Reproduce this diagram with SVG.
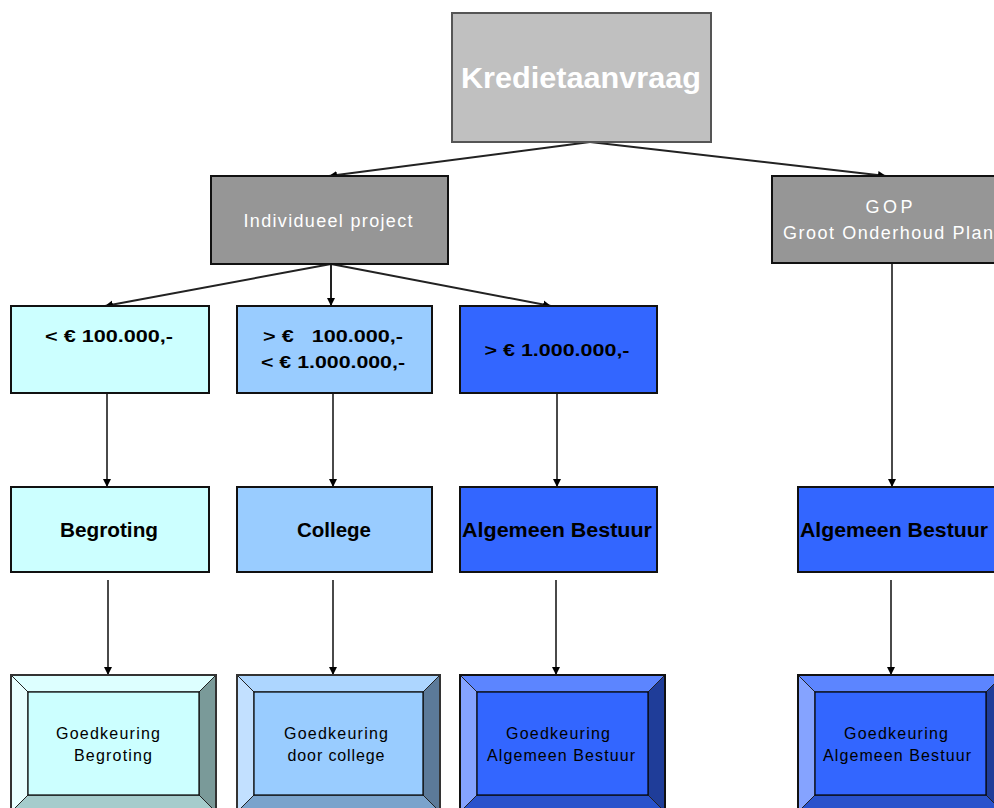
<svg xmlns="http://www.w3.org/2000/svg" width="994" height="808" viewBox="0 0 994 808">
<defs>
<marker id="arr" markerUnits="userSpaceOnUse" markerWidth="9" markerHeight="9" refX="8" refY="4.5" orient="auto">
<path d="M0,0.5 L8,4.5 L0,8.5 z" fill="#000"/>
</marker>
<style>
text{font-family:"Liberation Sans",Arial,sans-serif;text-anchor:middle}
.box{stroke:#111;stroke-width:2}
.w{fill:#fff}
.b{font-weight:bold;fill:#000}
.r{fill:#000;font-size:16px}
.c{fill:none;stroke:#222;stroke-width:2;marker-end:url(#arr)}
.v{fill:none;stroke:#4a4a4a;stroke-width:2;marker-end:url(#arr)}
.edge{stroke:#222;stroke-width:1}
.inner{stroke:#000;stroke-width:1.2}
</style>
</defs>
<rect width="994" height="808" fill="#fff"/>

<g id="connectors">
<line class="c" x1="590" y1="142" x2="329" y2="176"/>
<line class="c" x1="590" y1="142" x2="886" y2="176"/>
<line class="c" x1="331" y1="264" x2="105" y2="306"/>
<line class="c" x1="331" y1="264" x2="331" y2="306"/>
<line class="c" x1="331" y1="264" x2="551" y2="306"/>
<line class="v" x1="107" y1="393" x2="107" y2="487"/>
<line class="v" x1="333" y1="393" x2="333" y2="487"/>
<line class="v" x1="557" y1="393" x2="557" y2="487"/>
<line class="v" x1="892" y1="263" x2="892" y2="487"/>
<line class="v" x1="108" y1="580" x2="108" y2="675"/>
<line class="v" x1="333" y1="580" x2="333" y2="675"/>
<line class="v" x1="556" y1="580" x2="556" y2="675"/>
<line class="v" x1="891" y1="580" x2="891" y2="675"/>
</g>

<g id="kredietaanvraag">
<rect x="452" y="13" width="259" height="129" fill="#c0c0c0" stroke="#555" stroke-width="2"/>
<text x="581" y="88" class="w" font-weight="bold" font-size="30" textLength="240" lengthAdjust="spacingAndGlyphs">Kredietaanvraag</text>
</g>

<g id="individueel">
<rect class="box" x="211" y="176" width="237" height="88" fill="#969696"/>
<text x="328" y="227" class="w" font-size="18" textLength="169" lengthAdjust="spacing">Individueel project</text>
</g>

<g id="gop">
<rect class="box" x="772" y="176" width="240" height="87" fill="#969696"/>
<text x="889" y="213" class="w" font-size="18" textLength="47" lengthAdjust="spacing">GOP</text>
<text x="888" y="239" class="w" font-size="18" textLength="210" lengthAdjust="spacing">Groot Onderhoud Plan</text>
</g>

<g id="lt100k">
<rect class="box" x="11" y="306" width="198" height="87" fill="#ccffff"/>
<text x="109" y="342" class="b" font-size="17" textLength="128" lengthAdjust="spacingAndGlyphs">&lt; € 100.000,-</text>
</g>

<g id="100k-1m">
<rect class="box" x="237" y="306" width="195" height="87" fill="#99ccff"/>
<text x="333" y="342" class="b" font-size="17" textLength="140" lengthAdjust="spacingAndGlyphs" xml:space="preserve">&gt; €   100.000,-</text>
<text x="333" y="368" class="b" font-size="17" textLength="144" lengthAdjust="spacingAndGlyphs">&lt; € 1.000.000,-</text>
</g>

<g id="gt1m">
<rect class="box" x="460" y="306" width="197" height="87" fill="#3366ff"/>
<text x="557" y="356" class="b" font-size="17" textLength="145" lengthAdjust="spacingAndGlyphs">&gt; € 1.000.000,-</text>
</g>

<g id="begroting">
<rect class="box" x="11" y="487" width="198" height="85" fill="#ccffff"/>
<text x="109" y="537" class="b" font-size="20" textLength="98" lengthAdjust="spacingAndGlyphs">Begroting</text>
</g>

<g id="college">
<rect class="box" x="237" y="487" width="195" height="85" fill="#99ccff"/>
<text x="334" y="537" class="b" font-size="20" textLength="74" lengthAdjust="spacingAndGlyphs">College</text>
</g>

<g id="ab1">
<rect class="box" x="460" y="487" width="197" height="85" fill="#3366ff"/>
<text x="557" y="537" class="b" font-size="20" textLength="190" lengthAdjust="spacingAndGlyphs">Algemeen Bestuur</text>
</g>

<g id="ab2">
<rect class="box" x="798" y="487" width="210" height="85" fill="#3366ff"/>
<text x="894" y="537" class="b" font-size="20" textLength="188" lengthAdjust="spacingAndGlyphs">Algemeen Bestuur</text>
</g>

<g id="gk-begroting">
<polygon class="edge" points="11,675 216,675 199,692 28,692" fill="#ddffff"/>
<polygon class="edge" points="11,675 28,692 28,795 11,812" fill="#e8ffff"/>
<polygon class="edge" points="216,675 216,812 199,795 199,692" fill="#7a9a99"/>
<polygon class="edge" points="11,812 216,812 199,795 28,795" fill="#a5cccc"/>
<rect class="inner" x="28" y="692" width="171" height="103" fill="#ccffff"/>
<rect x="11" y="675" width="205" height="137" fill="none" stroke="#333" stroke-width="2"/>
<text x="108" y="739" class="r" textLength="104" lengthAdjust="spacing">Goedkeuring</text>
<text x="113" y="761" class="r" textLength="78" lengthAdjust="spacing">Begroting</text>
</g>

<g id="gk-college">
<polygon class="edge" points="237,675 440,675 423,692 254,692" fill="#add6ff"/>
<polygon class="edge" points="237,675 254,692 254,795 237,812" fill="#c2e0ff"/>
<polygon class="edge" points="440,675 440,812 423,795 423,692" fill="#5c7a99"/>
<polygon class="edge" points="237,812 440,812 423,795 254,795" fill="#7aa3cc"/>
<rect class="inner" x="254" y="692" width="169" height="103" fill="#99ccff"/>
<rect x="237" y="675" width="203" height="137" fill="none" stroke="#333" stroke-width="2"/>
<text x="336" y="739" class="r" textLength="104" lengthAdjust="spacing">Goedkeuring</text>
<text x="336" y="761" class="r" textLength="97" lengthAdjust="spacing">door college</text>
</g>

<g id="gk-ab1">
<polygon class="edge" points="460,675 665,675 648,692 477,692" fill="#5c85ff"/>
<polygon class="edge" points="460,675 477,692 477,795 460,812" fill="#85a3ff"/>
<polygon class="edge" points="665,675 665,812 648,795 648,692" fill="#1f3d99"/>
<polygon class="edge" points="460,812 665,812 648,795 477,795" fill="#2952cc"/>
<rect class="inner" x="477" y="692" width="171" height="103" fill="#3366ff"/>
<rect x="460" y="675" width="205" height="137" fill="none" stroke="#111" stroke-width="2"/>
<text x="558" y="739" class="r" textLength="104" lengthAdjust="spacing">Goedkeuring</text>
<text x="561" y="761" class="r" textLength="148" lengthAdjust="spacing">Algemeen Bestuur</text>
</g>

<g id="gk-ab2">
<polygon class="edge" points="798,675 1003,675 986,692 815,692" fill="#5c85ff"/>
<polygon class="edge" points="798,675 815,692 815,795 798,812" fill="#85a3ff"/>
<polygon class="edge" points="1003,675 1003,812 986,795 986,692" fill="#1f3d99"/>
<polygon class="edge" points="798,812 1003,812 986,795 815,795" fill="#2952cc"/>
<rect class="inner" x="815" y="692" width="171" height="103" fill="#3366ff"/>
<rect x="798" y="675" width="205" height="137" fill="none" stroke="#111" stroke-width="2"/>
<text x="896" y="739" class="r" textLength="104" lengthAdjust="spacing">Goedkeuring</text>
<text x="897" y="761" class="r" textLength="148" lengthAdjust="spacing">Algemeen Bestuur</text>
</g>
</svg>
